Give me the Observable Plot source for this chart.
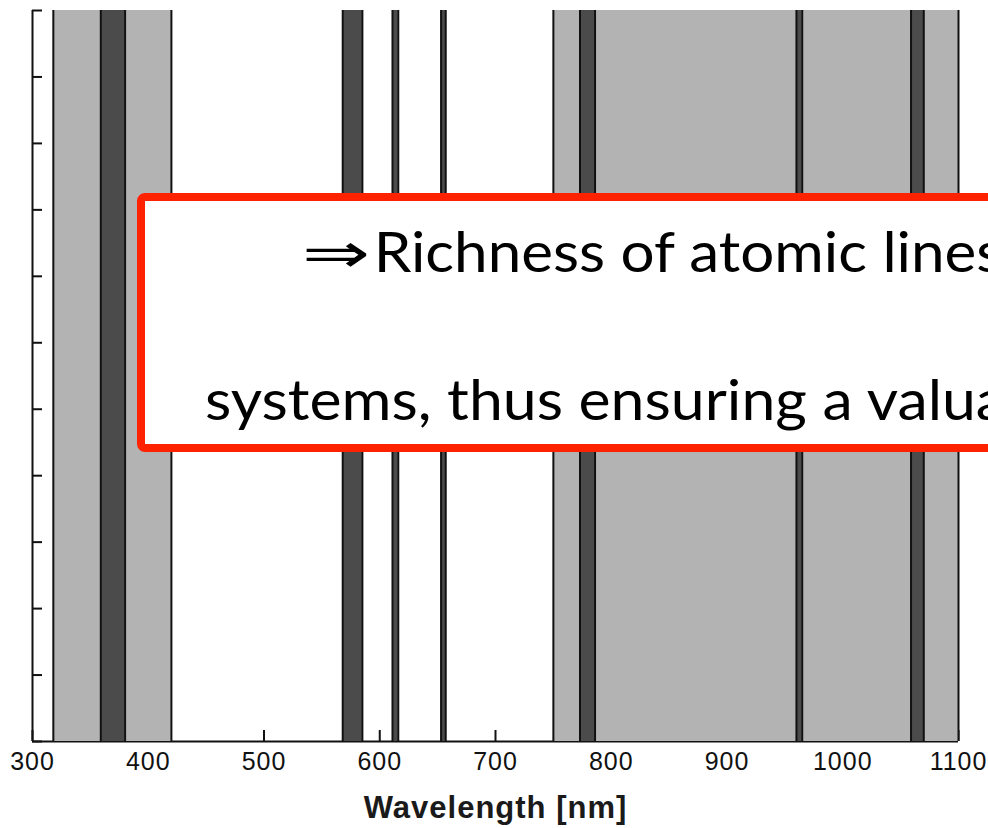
<!DOCTYPE html>
<html>
<head>
<meta charset="utf-8">
<script src="https://cdn.jsdelivr.net/npm/d3@7"></script>
<script src="https://cdn.jsdelivr.net/npm/@observablehq/plot@0.6"></script>
<style>
  html, body { margin: 0; padding: 0; background: #fff; overflow: hidden; }
  #wrap { position: relative; width: 988px; height: 828px; overflow: hidden; }
  #wrap > svg { position: absolute; left: 0; top: 0; }
</style>
</head>
<body>
<div id="wrap"></div>
<script>
// ---------- data ----------
const xTicks = [300, 400, 500, 600, 700, 800, 900, 1000, 1100];
const yTicks = [0, 1, 2, 3, 4, 5, 6, 7, 8, 9, 10, 11];
// broad (light gray) wavelength regions, nm
const broadStart = [318, 750];
const broadEnd   = [420, 1100];
// atomic lines (dark), nm
const lineStart = [359, 568, 611, 653, 773, 960, 1059];
const lineEnd   = [380, 585, 616, 657, 786, 965, 1070];
const xLabel = "Wavelength [nm]";
const noteArrow = "⇒";
const noteLine1 = "Richness of atomic lines";
const noteLine2 = "systems, thus ensuring a valua";

// ---------- build ----------
const W = 988, H = 828, mL = 32, mR = 30, mT = 10, mB = 87;
const plotW = W - mL - mR, plotH = H - mT - mB;
const ink = "#111";

const broad = broadStart.map((s, i) => ({x1: s, x2: broadEnd[i]}));
const lines = lineStart.map((s, i) => ({x1: s, x2: lineEnd[i]}));
const broadEdges = broad.flatMap(d => [d.x1, d.x2]);
const lineEdges = lines.flatMap(d => [d.x1, d.x2]);

const chart = Plot.plot({
  width: W, height: H,
  marginLeft: mL, marginRight: mR, marginTop: mT, marginBottom: mB,
  x: {domain: [300, 1100]},
  y: {domain: [0, 11], axis: null},
  style: {background: "#fff", fontFamily: "'Liberation Sans', Arial, sans-serif", color: ink},
  marks: [
    Plot.axisX(xTicks, {tickSize: 0, tickPadding: 11, fontSize: 25, fill: ink, label: null, tickFormat: d => String(d)}),
    Plot.ruleX(xTicks, {x: d => d, insetTop: plotH - 11, stroke: ink, strokeWidth: 2}),
    Plot.tickY(yTicks, {y: d => d, insetRight: plotW - 10, stroke: ink, strokeWidth: 2}),
    Plot.ruleX([300], {stroke: ink, strokeWidth: 2}),
    Plot.ruleY([0], {stroke: ink, strokeWidth: 2}),
    Plot.rect(broad, {x1: "x1", x2: "x2", fill: "#b3b3b3"}),
    Plot.ruleX(broadEdges, {x: d => d, stroke: ink, strokeWidth: 2}),
    Plot.rect(lines, {x1: "x1", x2: "x2", fill: "#4b4b4b"}),
    Plot.ruleX(lineEdges, {x: d => d, stroke: ink, strokeWidth: 2}),
    Plot.text([xLabel], {text: d => d, frameAnchor: "bottom", dy: 67, lineAnchor: "middle",
      fontSize: 31, fontWeight: "bold", fill: "#1a1a1a", fontFamily: "'Liberation Sans', Arial, sans-serif"})
  ]
});
document.getElementById("wrap").appendChild(chart);
d3.select(chart).selectAll("text").each(function() {
  const t = this.textContent;
  if (t === xLabel) d3.select(this).style("letter-spacing", "1px");
  else if (xTicks.map(String).includes(t)) d3.select(this).style("letter-spacing", "1px");
});

// ---------- callout overlay ----------
const ov = d3.select("#wrap").append("svg")
  .attr("width", W).attr("height", H)
  .style("pointer-events", "none");

ov.append("rect")
  .attr("x", 141).attr("y", 197).attr("width", 1000).attr("height", 251)
  .attr("rx", 4)
  .attr("fill", "#fff").attr("stroke", "#ff2200").attr("stroke-width", 8);

const ctx = document.createElement("canvas").getContext("2d");
function measure(str, font) {
  ctx.font = font;
  return ctx.measureText(str);
}
// place text so that ink of the first prefixLen chars spans x0..x1, baseline at by
function fitText(str, prefixLen, family, size, x0, x1, by) {
  const m = measure(str.slice(0, prefixLen), `${size}px ${family}`);
  const w = m.actualBoundingBoxLeft + m.actualBoundingBoxRight;
  const sx = (x1 - x0) / w;
  const tx = x0 + sx * m.actualBoundingBoxLeft;
  ov.append("text")
    .attr("transform", `translate(${tx},${by}) scale(${sx},1)`)
    .attr("font-family", family).attr("font-size", size)
    .attr("fill", "#000")
    .text(str);
}
function fitBox(str, family, size, x0, x1, y0, y1) {
  const m = measure(str, `${size}px ${family}`);
  const w = m.actualBoundingBoxLeft + m.actualBoundingBoxRight;
  const h = m.actualBoundingBoxAscent + m.actualBoundingBoxDescent;
  const sx = (x1 - x0) / w, sy = (y1 - y0) / h;
  const tx = x0 + sx * m.actualBoundingBoxLeft;
  const ty = y0 + sy * m.actualBoundingBoxAscent;
  ov.append("text")
    .attr("transform", `translate(${tx},${ty}) scale(${sx},${sy})`)
    .attr("font-family", family).attr("font-size", size)
    .attr("fill", "#000")
    .text(str);
}
const fam = "Lato, 'Open Sans', sans-serif";
fitBox(noteArrow, "'DejaVu Sans', sans-serif", 60, 306, 367, 242, 267);
fitText(noteLine1, 23, fam, 56, 379, 976, 272);
fitText(noteLine2, 29, fam, 56, 206, 974, 420);
</script>
</body>
</html>
